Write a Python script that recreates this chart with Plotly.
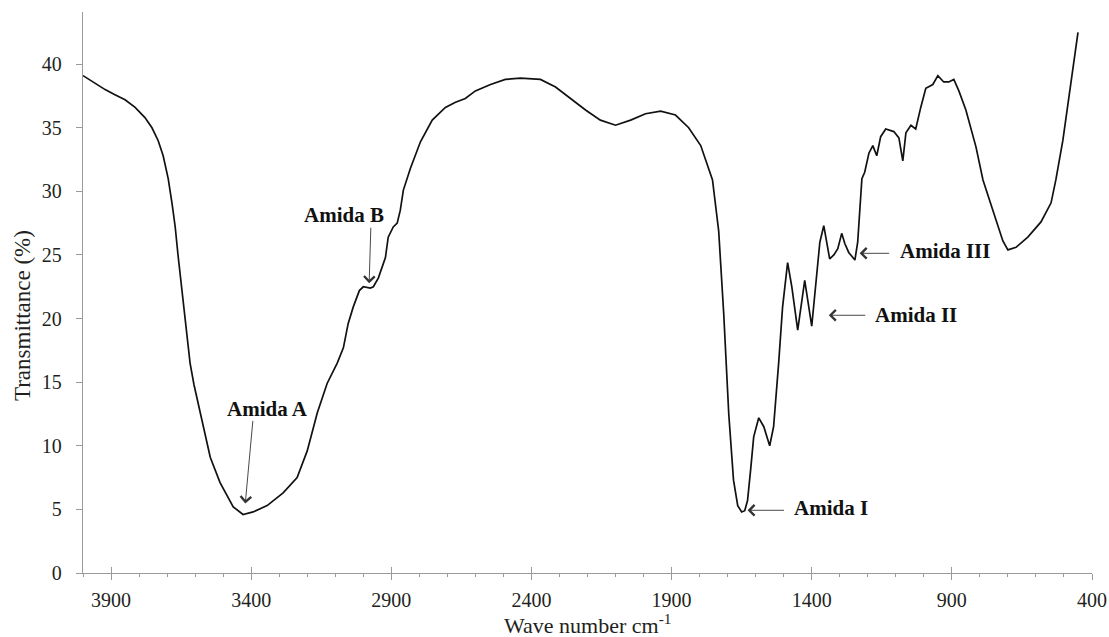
import plotly.graph_objects as go

# FTIR spectrum (wave number cm-1, transmittance %)
wavenumber = [4000, 3957, 3921, 3886, 3850, 3814, 3779, 3754, 3732, 3714, 3696, 3682, 3671, 3661,
              3650, 3639, 3629, 3618, 3604, 3582, 3564, 3546, 3511, 3464, 3429, 3393, 3343, 3286,
              3236, 3200, 3164, 3129, 3093, 3071, 3054, 3036, 3014, 3000, 2975, 2964, 2946, 2921,
              2911, 2893, 2879, 2868, 2857, 2832, 2796, 2754, 2707, 2671, 2636, 2600, 2546, 2493,
              2439, 2368, 2314, 2261, 2207, 2154, 2100, 2046, 1993, 1939, 1886, 1839, 1796, 1768,
              1754, 1732, 1714, 1696, 1679, 1664, 1650, 1639, 1629, 1618, 1607, 1589, 1571, 1550,
              1536, 1518, 1504, 1486, 1471, 1450, 1425, 1400, 1386, 1371, 1357, 1346, 1336, 1321,
              1307, 1293, 1282, 1268, 1246, 1236, 1229, 1221, 1211, 1196, 1182, 1168, 1154, 1136,
              1107, 1089, 1075, 1064, 1046, 1029, 1011, 993, 968, 950, 929, 911, 893, 875, 850,
              814, 789, 750, 718, 700, 671, 629, 582, 546, 529, 504, 482, 464, 450]
transmittance = [39.1, 38.5, 38.0, 37.6, 37.2, 36.6, 35.8, 35.0, 34.0, 32.8, 31.0, 29.0, 27.2, 25.0,
                 22.8, 20.5, 18.3, 16.5, 14.8, 12.6, 10.8, 9.1, 7.1, 5.2, 4.6, 4.8, 5.3, 6.3,
                 7.5, 9.6, 12.6, 14.9, 16.5, 17.7, 19.6, 20.9, 22.2, 22.5, 22.4, 22.5, 23.2, 24.8,
                 26.4, 27.2, 27.5, 28.5, 30.1, 31.8, 33.9, 35.6, 36.6, 37.0, 37.3, 37.9, 38.4, 38.8,
                 38.9, 38.8, 38.2, 37.3, 36.4, 35.6, 35.2, 35.6, 36.1, 36.3, 36.0, 35.0, 33.6, 31.8,
                 30.9, 26.9, 20.4, 12.5, 7.3, 5.3, 4.8, 4.9, 5.7, 8.1, 10.7, 12.2, 11.5, 10.0,
                 11.5, 16.5, 20.9, 24.4, 22.5, 19.1, 23.0, 19.4, 22.5, 26.0, 27.3, 26.0, 24.7, 25.0,
                 25.5, 26.7, 25.9, 25.2, 24.6, 26.0, 28.0, 31.0, 31.5, 33.0, 33.6, 32.8, 34.3, 34.9,
                 34.7, 34.2, 32.4, 34.6, 35.2, 34.9, 36.6, 38.1, 38.4, 39.1, 38.6, 38.6, 38.8, 37.9, 36.4,
                 33.5, 30.9, 28.3, 26.1, 25.4, 25.6, 26.4, 27.6, 29.1, 30.9, 34.0, 37.5, 40.5, 42.5]

x_ticks = [3900, 3400, 2900, 2400, 1900, 1400, 900, 400]
y_ticks = [0, 5, 10, 15, 20, 25, 30, 35, 40]

# labels: (text, text_x, text_y, tip_x, tip_y, tail_dx_px, tail_dy_px)
labels = [
    ("Amida A", 3341, 12.86, 3421, 5.47, 7.7, -84),
    ("Amida B", 3068, 28.12, 2979, 22.78, 1.7, -57),
    ("Amida I", 1330, 5.08, 1629, 4.93, 38, 0),
    ("Amida II", 1029, 20.26, 1339, 20.26, 38, 0),
    ("Amida III", 923, 25.29, 1229, 25.13, 31, 0),
]

FONT = "Liberation Serif"
TXT = "#231f20"
AX = "#9a9a9a"

fig = go.Figure()
fig.add_trace(go.Scatter(x=wavenumber, y=transmittance, mode="lines",
                         line=dict(color="#111111", width=1.7), showlegend=False,
                         hoverinfo="skip"))
# dummy trace on secondary x-axis so its inside ticks render
fig.add_trace(go.Scatter(x=[wavenumber[0]], y=[transmittance[0]], xaxis="x2", mode="lines",
                         line=dict(width=0), showlegend=False, hoverinfo="skip"))

fig.update_layout(
    width=1109, height=637,
    margin=dict(l=83, r=17, t=12, b=64, autoexpand=False),
    paper_bgcolor="white", plot_bgcolor="white",
    xaxis=dict(range=[4000, 400], tickvals=x_ticks, ticktext=[str(v) for v in x_ticks],
               ticks="outside", ticklen=6, tickcolor=AX, tickwidth=1, automargin=False,
               minor=dict(dtick=100, tick0=400, ticks="outside", ticklen=3, tickcolor=AX),
               showline=True, linecolor=AX, linewidth=1.3, showgrid=False, zeroline=False,
               tickfont=dict(family=FONT, size=20, color=TXT), ticklabelstandoff=3),
    xaxis2=dict(range=[4000, 400], overlaying="x", side="bottom", anchor="y",
                tickvals=x_ticks, ticktext=["" for _ in x_ticks], ticks="inside",
                ticklen=6, tickcolor=AX, showline=False, showgrid=False, zeroline=False,
                automargin=False),
    yaxis=dict(range=[0, 44.1], tickvals=y_ticks, ticks="outside", ticklen=6, tickcolor=AX,
               showline=True, linecolor=AX, linewidth=1.3, showgrid=False, zeroline=False,
               automargin=False,
               tickfont=dict(family=FONT, size=20, color=TXT), ticklabelstandoff=10),
)

ann = []
for text, tx, ty, hx, hy, dx, dy in labels:
    ann.append(dict(x=hx, y=hy, xref="x", yref="y", text="", showarrow=True,
                    ax=dx, ay=dy, arrowhead=4, arrowsize=2.3, arrowwidth=0.9,
                    arrowcolor="#333333"))
    ann.append(dict(x=tx, y=ty, xref="x", yref="y", text="<b>%s</b>" % text,
                    showarrow=False, font=dict(family=FONT, size=21, color="#111111")))

ann.append(dict(x=0.5, y=0, xref="paper", yref="paper", yanchor="middle", yshift=-51,
                text="Wave number cm<sup>-1</sup>", showarrow=False,
                font=dict(family=FONT, size=22, color=TXT)))
ann.append(dict(x=0, y=0.458, xref="paper", yref="paper", xanchor="center", xshift=-61,
                text="Transmittance (%)", textangle=-90, showarrow=False,
                font=dict(family=FONT, size=23, color=TXT)))
fig.update_layout(annotations=ann)

fig.write_html("out.html", config={"displayModeBar": False},
               post_script="document.body.style.margin='0px';")
